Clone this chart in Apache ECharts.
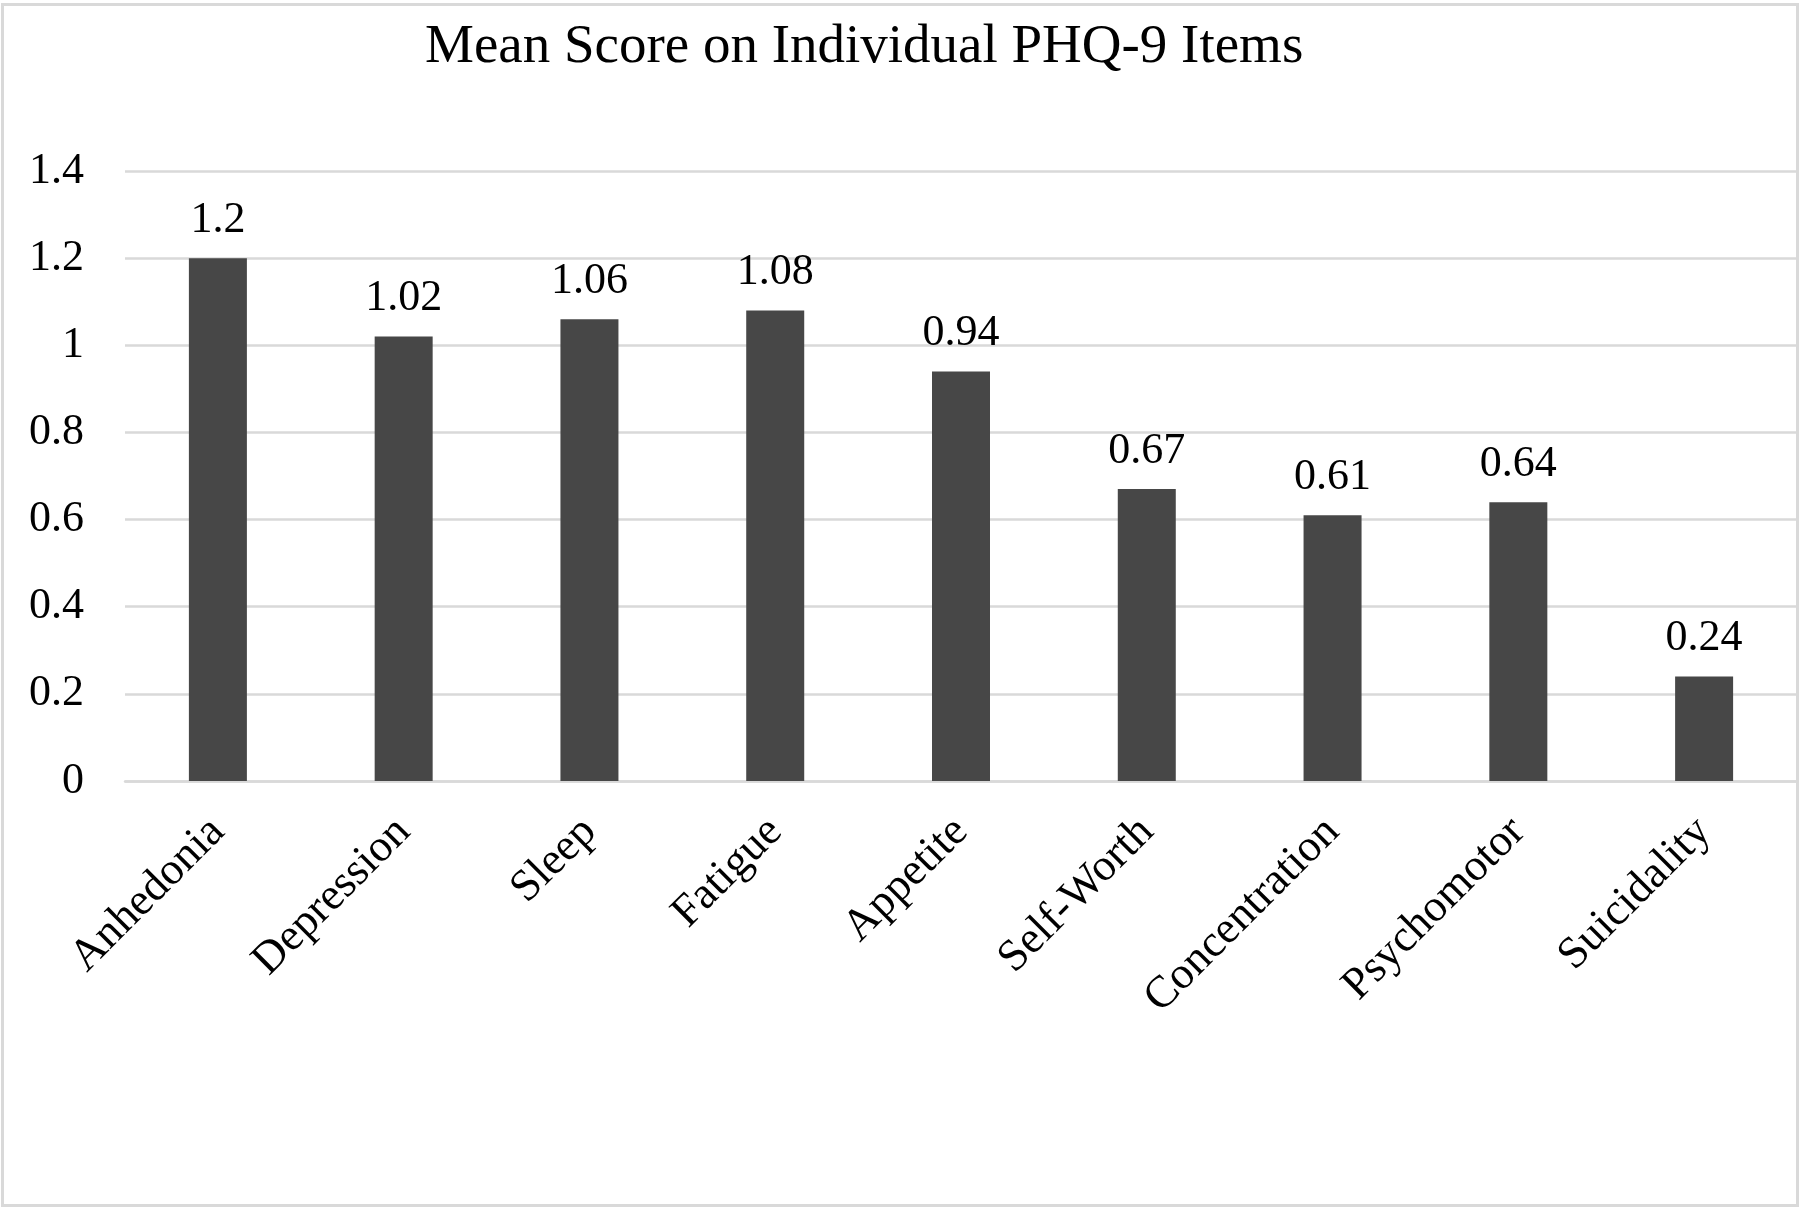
<!DOCTYPE html>
<html>
<head>
<meta charset="utf-8">
<script src="https://cdn.jsdelivr.net/npm/echarts@6/dist/echarts.min.js"></script>
<style>
html,body{margin:0;padding:0;background:#fff;}
#chart{width:1800px;height:1207px;}
</style>
</head>
<body>
<div id="chart"></div>
<script>
const titleText = 'Mean Score on Individual PHQ-9 Items';
const categories = ['Anhedonia','Depression','Sleep','Fatigue','Appetite','Self-Worth','Concentration','Psychomotor','Suicidality'];
const meanScores = [1.2, 1.02, 1.06, 1.08, 0.94, 0.67, 0.61, 0.64, 0.24];
const yMin = 0, yMax = 1.4, yStep = 0.2;

const FONT = '"Liberation Serif", "Times New Roman", serif';
const chart = echarts.init(document.getElementById('chart'), null, {renderer:'canvas'});
chart.setOption({
  backgroundColor: '#ffffff',
  animation: false,
  title: {
    text: titleText,
    left: 425,
    top: 20,
    padding: 0,
    textStyle: {fontFamily: FONT, fontSize: 55, fontWeight: 'normal', color: '#000'}
  },
  graphic: [{
    type: 'rect',
    shape: {x: 2.5, y: 4.5, width: 1795, height: 1201},
    style: {fill: 'none', stroke: '#d9d9d9', lineWidth: 3},
    silent: true,
    z: 0
  }],
  grid: {left: 125, right: 3, top: 171, bottom: 426, containLabel: false},
  xAxis: {
    type: 'category',
    data: categories,
    axisTick: {show: false},
    axisLine: {show: true, lineStyle: {color: '#d9d9d9', width: 2.5}},
    axisLabel: {
      rotate: 45,
      margin: 44,
      verticalAlign: 'middle',
      fontFamily: FONT,
      fontSize: 45,
      color: '#000',
      interval: 0
    }
  },
  yAxis: {
    type: 'value',
    min: yMin,
    max: yMax,
    interval: yStep,
    axisLine: {show: false},
    axisTick: {show: false},
    splitLine: {show: true, lineStyle: {color: '#d9d9d9', width: 2.5}},
    axisLabel: {
      margin: 41,
      fontFamily: FONT,
      fontSize: 44,
      color: '#000'
    }
  },
  series: [{
    type: 'bar',
    data: meanScores,
    barWidth: 58,
    itemStyle: {color: '#474747'},
    label: {
      show: true,
      position: 'top',
      distance: 16,
      fontFamily: FONT,
      fontSize: 44,
      color: '#000'
    }
  }]
});
</script>
</body>
</html>
